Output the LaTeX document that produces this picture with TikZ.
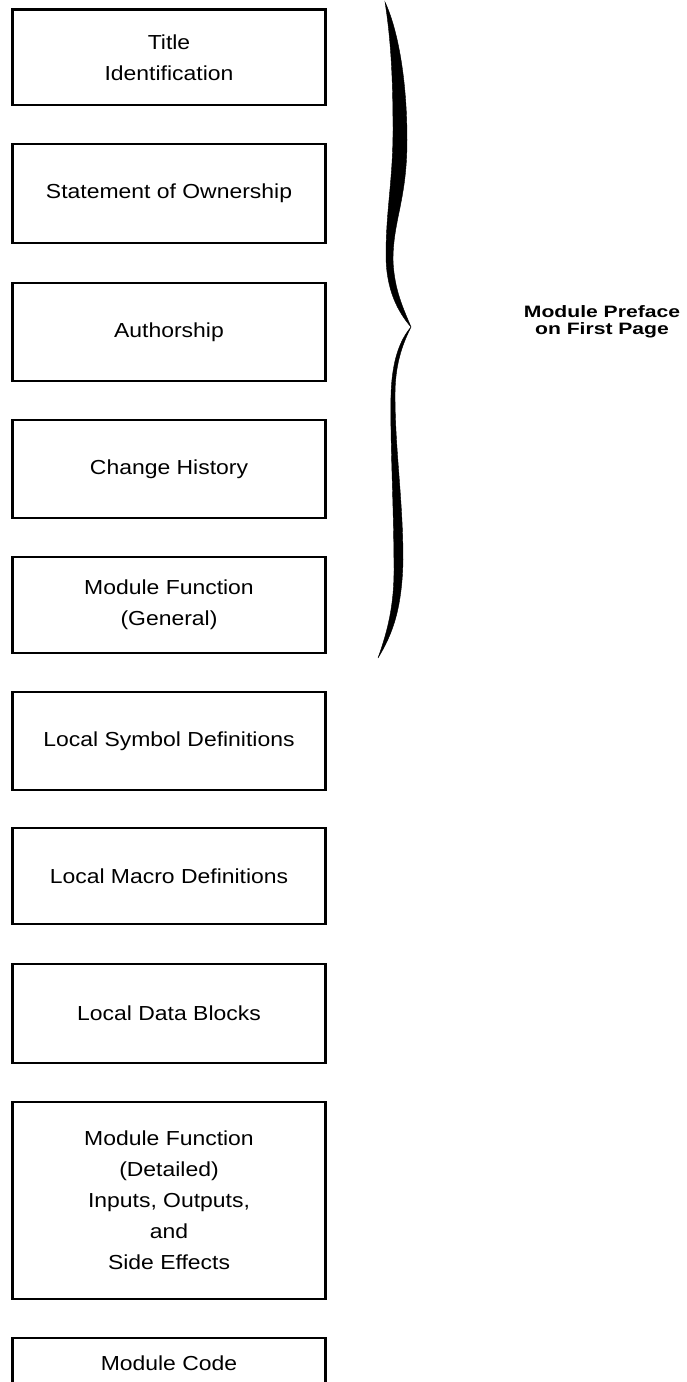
\documentclass[tikz,border=0pt]{standalone}
\usepackage{fontspec}
\setmainfont{Liberation Sans}
\newfontfamily\boxfont[FakeStretch=1.13]{Liberation Sans}
\newfontfamily\lblfont[FakeStretch=1.28]{Liberation Sans}
\tikzset{
  boxn/.style={draw, line width=2.2pt, minimum width=313pt, inner sep=0pt, outer sep=0pt,
    align=center, font=\boxfont\fontsize{20.3}{31}\selectfont},
  lbl/.style={align=center, inner sep=0pt, font=\lblfont\bfseries\fontsize{16.5}{17.5}\selectfont},
  bracefill/.style={fill=black, draw=black, line width=0.4pt}
}
\begin{document}
\begin{tikzpicture}[x=1pt,y=-1pt]
\clip (0,0) rectangle (687,1382);
\fill[white] (0,0) rectangle (687,1382);
\node[boxn, minimum height=95.5pt] (b1) at (169,57.25) {Title\\Identification};
\node[boxn, minimum height=99pt] (b2) at (169,193.5) {Statement of Ownership};
\node[boxn, minimum height=98pt] (b3) at (169,332) {Authorship};
\node[boxn, minimum height=98pt] (b4) at (169,469) {Change History};
\node[boxn, minimum height=96pt] (b5) at (169,605) {Module Function\\(General)};
\node[boxn, minimum height=98pt] (b6) at (169,741) {Local Symbol Definitions};
\node[boxn, minimum height=96pt] (b7) at (169,876) {Local Macro Definitions};
\node[boxn, minimum height=99pt] (b8) at (169,1013.5) {Local Data Blocks};
\node[boxn, minimum height=197pt] (b9) at (169,1200.5) {Module Function\\(Detailed)\\Inputs, Outputs,\\and\\Side Effects};
\node[boxn, anchor=north, inner ysep=16pt, text height=16pt, text depth=30pt] (b10) at (169,1338) {Module Code};
% brace
\path[bracefill]
  (385,2) .. controls (398,30) and (407,80) .. (407,140)
  .. controls (407,200) and (393,220) .. (393,260)
  .. controls (394,290) and (404,310) .. (411,327)
  .. controls (402,345) and (395,365) .. (395,395)
  .. controls (395,450) and (403,500) .. (403,560)
  .. controls (402,610) and (392,635) .. (378,658)
  .. controls (388,630) and (394,605) .. (394,570)
  .. controls (394,510) and (390,440) .. (391,395)
  .. controls (392,360) and (400,340) .. (411,327)
  .. controls (398,312) and (386,290) .. (386,255)
  .. controls (386,210) and (393,180) .. (393,130)
  .. controls (393,80) and (391,40) .. (385,2) -- cycle;
\node[lbl] (lbl) at (602,322) {Module Preface\\on First Page};
\end{tikzpicture}
\end{document}
